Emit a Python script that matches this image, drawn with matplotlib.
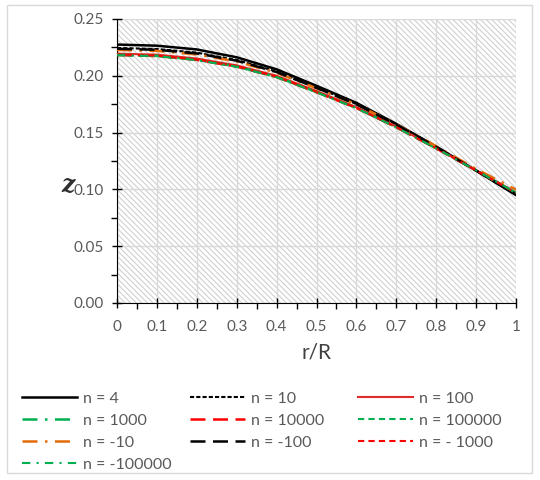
import numpy as np
import matplotlib
matplotlib.use("Agg")
from matplotlib import pyplot as plt
from matplotlib.patches import Rectangle
from matplotlib.ticker import MultipleLocator

# r/R positions
r = [0.0, 0.1, 0.2, 0.3, 0.4, 0.5, 0.6, 0.7, 0.8, 0.9, 1.0]

# z values
z_n4 = [0.2275, 0.2265, 0.2232, 0.2163, 0.2057, 0.1912, 0.1762, 0.1577, 0.1377, 0.1165, 0.0950]
z_n10 = [0.2245, 0.2236, 0.2204, 0.2139, 0.2038, 0.1898, 0.1752, 0.1572, 0.1375, 0.1166, 0.0955]
z_n100 = [0.2195, 0.2186, 0.2152, 0.2092, 0.2000, 0.1866, 0.1724, 0.1553, 0.1365, 0.1167, 0.0968]
z_n1000 = [0.2185, 0.2176, 0.2142, 0.2083, 0.1991, 0.1858, 0.1718, 0.1548, 0.1362, 0.1167, 0.0970]
z_n10000 = [0.2183, 0.2174, 0.2140, 0.2081, 0.1989, 0.1856, 0.1717, 0.1547, 0.1361, 0.1167, 0.0971]
z_n100000 = [0.2182, 0.2173, 0.2139, 0.2080, 0.1988, 0.1855, 0.1716, 0.1546, 0.1361, 0.1167, 0.0971]
z_nm10 = [0.2228, 0.2219, 0.2188, 0.2125, 0.2027, 0.1890, 0.1748, 0.1572, 0.1380, 0.1180, 0.0998]
z_nm100 = [0.2238, 0.2229, 0.2197, 0.2133, 0.2033, 0.1894, 0.1749, 0.1570, 0.1374, 0.1166, 0.0958]
z_nm1000 = [0.2187, 0.2178, 0.2144, 0.2085, 0.1993, 0.1860, 0.1719, 0.1549, 0.1362, 0.1167, 0.0969]
z_nm100000 = [0.2182, 0.2173, 0.2139, 0.2080, 0.1988, 0.1855, 0.1716, 0.1546, 0.1361, 0.1167, 0.0971]

labels = ["n = 4", "n = 10", "n = 100", "n = 1000", "n = 10000", "n = 100000",
          "n = -10", "n = -100", "n = - 1000", "n = -100000"]
x_ticks = [0.0, 0.1, 0.2, 0.3, 0.4, 0.5, 0.6, 0.7, 0.8, 0.9, 1.0]
x_ticklabels = ["0", "0.1", "0.2", "0.3", "0.4", "0.5", "0.6", "0.7", "0.8", "0.9", "1"]
y_ticks = [0.0, 0.05, 0.10, 0.15, 0.20, 0.25]
y_ticklabels = ["0.00", "0.05", "0.10", "0.15", "0.20", "0.25"]

plt.rcParams["font.family"] = ["Lato", "DejaVu Sans"]
plt.rcParams["hatch.linewidth"] = 0.8

fig = plt.figure(figsize=(5.4, 4.8), dpi=100)
ax = fig.add_axes([117/540, 1-303/480, (516-117)/540, (303-19)/480])

# chart border
fig.patches.append(Rectangle((7/540, 1-473/480), 525/540, 468/480, transform=fig.transFigure,
                             fill=False, edgecolor="#d9d9d9", lw=1))

# hatched plot area
ax.add_patch(Rectangle((0, 0), 1, 1, transform=ax.transAxes, facecolor="white",
                       edgecolor="#d0d0d0", hatch="\\\\\\\\\\\\", lw=0, zorder=0))

ax.plot(r, z_n4, color="black", lw=1.8, ls="-", label=labels[0], zorder=3)
ax.plot(r, z_n10, color="black", lw=1.5, ls=(0, (2, 1)), label=labels[1], zorder=3)
ax.plot(r, z_n100, color="#e02b2b", lw=1.5, ls="-", label=labels[2], zorder=3)
ax.plot(r, z_n1000, color="#00b050", lw=1.8, ls=(0, (6, 3, 1, 3)), label=labels[3], zorder=3)
ax.plot(r, z_n10000, color="#ff0000", lw=1.8, ls=(0, (6, 3)), label=labels[4], zorder=3)
ax.plot(r, z_n100000, color="#00b050", lw=1.5, ls=(0, (3, 2)), label=labels[5], zorder=3)
ax.plot(r, z_nm10, color="#e36c09", lw=1.8, ls=(0, (6, 3, 1, 3)), label=labels[6], zorder=3)
ax.plot(r, z_nm100, color="black", lw=1.8, ls=(0, (6, 3)), label=labels[7], zorder=3)
ax.plot(r, z_nm1000, color="#ff0000", lw=1.5, ls=(0, (3, 2)), label=labels[8], zorder=3)
ax.plot(r, z_nm100000, color="#00b050", lw=1.5, ls=(0, (4, 3, 1, 3)), label=labels[9], zorder=3)

ax.set_xlim(0, 1)
ax.set_ylim(0, 0.25)
ax.set_xticks(x_ticks)
ax.set_xticklabels(x_ticklabels)
ax.set_yticks(y_ticks)
ax.set_yticklabels(y_ticklabels)
ax.xaxis.set_minor_locator(MultipleLocator(0.05))
ax.yaxis.set_minor_locator(MultipleLocator(0.025))

ax.grid(True, which="major", color="#d9d9d9", lw=1, zorder=1)
ax.set_axisbelow(True)
for s in ["top", "right"]:
    ax.spines[s].set_visible(False)
ax.tick_params(which="major", direction="inout", length=7, width=1, colors="black",
               labelcolor="#595959", labelsize=11, pad=6)
ax.tick_params(axis="x", which="major", pad=9)
ax.tick_params(which="minor", direction="out", length=4, width=1, colors="black")

ax.set_xlabel("r/R", fontsize=15, color="#404040", labelpad=6)
fig.text(68/540, 1-185/480, "z", fontsize=17, fontweight="bold", fontstyle="italic",
         family="DejaVu Serif", color="#303030", ha="center", va="center")

# legend: three fixed-width columns filled row by row, like the original
handles, labs = ax.get_legend_handles_labels()
col_x = [16, 184, 352]
for c in range(3):
    idx = list(range(c, len(handles), 3))
    leg = fig.legend([handles[i] for i in idx], [labs[i] for i in idx],
                     loc="upper left", bbox_to_anchor=(col_x[c]/540, 1-385/480),
                     frameon=False, fontsize=11.5, handlelength=3.4, handletextpad=0.4,
                     labelspacing=0.5, borderaxespad=0)
    for t in leg.get_texts():
        t.set_color("#595959")

fig.savefig("out.png", dpi=100)
